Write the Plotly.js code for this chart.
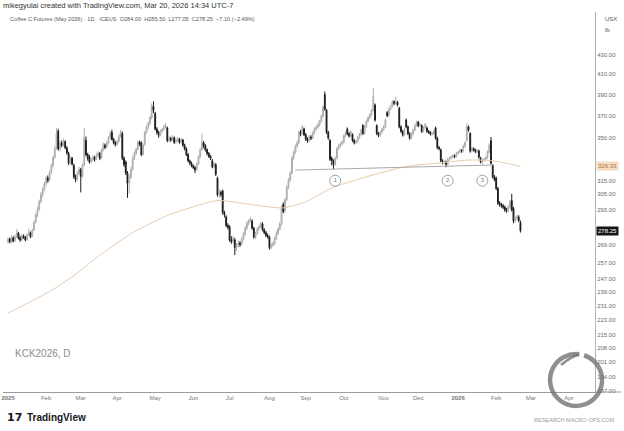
<!DOCTYPE html>
<html><head><meta charset="utf-8">
<script src="https://cdn.plot.ly/plotly-3.0.1.min.js"></script>
<style>html,body{margin:0;padding:0;background:#fff;}#chart{width:624px;height:431px;}</style>
</head><body><div id="chart"></div>
<script>
// ---- data (KCK2026 daily OHLC) ----
const startDate = '2025-01-02';
const barOpen = [
271.0,272.8,271.0,273.4,271.5,274.2,276.8,273.3,272.1,274.6,
273.7,272.2,275.5,277.0,274.5,279.0,284.5,289.8,293.5,299.5,
304.8,308.3,312.8,317.5,315.6,321.8,327.0,333.8,341.5,356.0,
341.5,345.8,344.3,347.0,341.5,337.0,329.4,333.2,327.0,318.2,
316.3,320.8,324.0,318.8,327.5,348.0,336.2,334.0,330.3,331.8,
333.6,332.4,335.8,337.0,333.5,339.8,344.0,342.5,345.8,350.3,
355.0,349.0,346.0,344.8,347.3,351.8,354.0,333.0,330.0,321.0,
313.2,317.8,324.3,333.2,337.3,340.8,346.4,346.0,336.3,344.5,
355.3,359.6,363.3,368.0,378.5,372.0,358.0,355.0,352.8,356.2,
357.8,360.2,359.0,348.2,350.0,348.8,350.5,346.7,348.2,349.0,
346.7,348.5,344.0,341.0,336.0,331.0,329.0,327.0,325.5,323.8,
328.3,334.2,340.3,346.0,343.5,340.0,337.0,334.5,331.0,326.2,
328.0,317.0,304.2,306.0,307.0,291.0,288.0,282.0,281.0,272.0,
271.2,272.0,267.2,268.6,270.0,269.2,272.7,276.2,280.2,283.6,
285.2,285.0,280.0,274.2,276.6,279.7,281.2,283.0,279.0,277.0,
275.0,274.0,267.2,268.6,269.7,273.2,276.7,279.7,283.2,297.0,
292.2,300.7,310.2,315.7,321.2,333.2,338.2,343.2,346.2,355.0,
354.2,358.0,353.0,349.0,347.7,351.0,350.2,354.7,358.2,359.6,
361.7,365.2,369.7,390.0,375.0,355.0,348.0,333.0,331.0,328.2,
333.2,341.2,343.6,345.2,346.7,352.2,358.0,354.0,352.2,353.0,
348.0,346.2,347.2,350.7,353.2,361.0,354.2,360.2,365.2,368.2,
371.2,375.2,380.0,361.0,354.0,352.7,355.2,357.7,360.2,373.0,
370.2,376.2,378.7,383.0,381.7,382.5,377.0,360.0,356.0,353.2,
366.0,360.0,354.0,350.2,353.7,357.2,361.2,364.0,361.2,361.0,
356.2,359.2,359.0,356.0,355.0,353.6,354.2,359.0,350.0,342.0,
340.0,331.0,329.6,330.0,328.2,332.2,333.2,334.2,335.0,334.7,
337.2,338.2,339.5,339.2,343.2,348.0,360.0,354.0,339.2,341.0,
340.0,338.7,339.0,333.0,330.2,331.7,332.2,333.7,338.2,348.0,
327.0,318.0,317.0,309.0,298.0,297.0,296.0,295.0,293.0,292.7,
295.2,300.0,294.0,285.2,287.2,288.0,284.0];
const barHigh = [
274.0,273.5,275.2,274.5,275.6,279.5,277.6,274.8,276.0,275.9,
274.6,276.4,279.8,277.8,279.6,285.4,290.8,295.0,300.6,306.2,
309.9,314.0,318.6,319.2,322.8,328.4,335.2,343.0,359.0,358.2,
347.8,348.0,349.6,348.1,343.0,338.4,334.6,334.0,328.6,319.8,
322.4,326.0,325.2,328.5,359.0,351.4,337.5,335.8,333.4,335.6,
334.9,337.2,339.0,338.2,341.0,346.2,345.4,347.6,351.8,356.0,
357.4,350.2,347.6,348.6,353.0,357.2,355.8,334.6,331.2,322.6,
319.6,326.0,334.8,338.8,342.0,347.8,348.0,347.2,345.4,356.4,
361.0,364.8,370.0,381.5,383.5,373.6,359.6,356.4,357.6,359.0,
361.6,363.4,360.2,352.0,351.2,352.6,351.4,349.8,351.0,350.2,
350.2,349.4,345.2,342.2,337.4,332.0,330.2,328.0,326.4,329.6,
335.6,341.8,354.0,347.6,344.8,341.2,338.2,335.8,332.4,330.0,
329.0,318.2,308.8,307.4,308.2,292.4,289.2,283.4,282.2,274.6,
274.8,273.4,270.0,271.8,271.2,273.8,277.4,281.4,284.8,286.4,
288.0,286.2,281.0,277.6,280.8,282.4,284.6,284.2,280.0,278.2,
276.4,275.0,270.0,271.0,274.2,277.8,280.6,284.4,296.4,298.6,
301.8,311.4,317.0,322.6,334.6,339.6,344.4,347.8,356.4,357.2,
361.6,359.2,354.4,350.6,352.4,352.6,355.8,359.4,361.0,363.0,
366.4,371.0,379.4,393.0,376.2,356.4,349.2,334.4,332.2,334.4,
342.4,345.0,346.4,348.0,353.4,356.0,359.4,355.2,357.0,354.2,
349.2,348.4,352.0,354.6,358.4,362.4,361.4,366.4,369.4,372.4,
376.4,396.0,381.4,362.2,355.4,356.6,358.8,361.4,367.4,374.2,
377.4,380.0,384.6,384.4,388.0,383.8,378.2,361.2,357.2,359.4,
367.4,361.2,355.2,354.8,358.4,362.4,365.4,365.2,363.8,362.2,
360.4,363.4,360.2,357.2,356.2,355.4,357.4,360.2,351.2,343.2,
341.2,332.2,331.4,331.0,333.4,334.4,335.4,336.4,336.2,338.4,
339.4,340.8,340.6,344.4,347.4,363.0,361.2,355.2,342.4,342.2,
341.0,340.8,340.2,334.2,332.8,333.4,334.8,339.4,345.4,351.0,
328.2,319.4,318.2,310.2,299.4,298.2,297.4,296.2,294.6,296.4,
300.4,305.0,295.2,288.4,289.4,289.2,285.5];
const barLow = [
269.5,269.8,270.2,270.4,270.8,273.5,272.4,270.9,271.5,272.8,
271.2,271.6,274.6,273.2,274.0,278.2,283.6,287.9,292.4,298.0,
302.5,306.8,311.0,313.4,314.6,320.2,325.8,332.5,340.2,339.4,
338.6,342.1,343.0,340.5,335.9,327.5,328.2,327.0,316.5,313.8,
315.0,319.4,306.0,317.2,326.5,334.6,331.0,328.6,329.0,330.5,
330.2,331.3,334.2,331.5,332.4,338.6,340.6,341.4,344.6,349.0,
347.8,344.6,342.8,343.6,346.2,350.6,331.6,326.0,319.4,302.0,
305.0,316.4,323.0,331.6,335.8,339.4,343.2,334.8,335.2,343.6,
353.8,357.8,361.6,366.8,372.4,356.8,353.2,350.4,351.6,354.6,
356.4,358.8,346.4,346.8,346.8,347.4,345.0,345.4,346.6,345.2,
345.6,342.6,339.6,334.8,329.6,327.4,325.6,324.2,321.0,322.6,
327.4,333.0,339.4,341.2,338.6,335.4,333.2,331.6,324.8,325.2,
318.6,302.8,302.0,302.6,289.6,287.6,280.8,279.2,270.8,269.4,
269.8,262.0,264.6,267.0,267.4,268.4,271.8,275.0,279.0,282.2,
284.0,279.0,273.0,272.8,275.6,278.4,280.0,278.0,276.0,274.0,
272.8,265.6,266.0,267.4,268.6,272.0,275.4,278.6,282.0,290.6,
291.0,299.4,308.6,314.2,320.0,331.8,336.6,341.6,345.0,351.6,
353.0,351.8,347.6,346.0,346.6,348.4,349.2,353.6,356.8,358.2,
360.4,363.8,368.4,374.6,353.6,348.6,330.8,327.2,324.0,327.0,
332.0,339.8,342.2,343.8,345.4,350.8,352.6,350.4,351.0,346.8,
344.6,345.0,346.0,349.4,352.0,352.8,353.0,359.0,364.0,367.0,
370.0,374.0,364.6,352.6,351.0,351.4,354.0,356.4,359.0,368.6,
369.0,375.0,377.4,379.8,380.4,378.6,358.6,354.6,351.4,352.0,
358.6,352.6,348.6,349.0,352.4,356.0,360.0,359.6,360.0,354.6,
355.0,358.0,354.6,353.6,352.2,352.4,353.0,348.6,340.6,339.6,
329.6,328.0,328.2,325.6,327.0,331.0,332.0,333.0,333.0,333.6,
336.0,337.0,337.6,338.0,342.0,347.0,355.6,337.6,338.0,338.6,
337.2,337.4,332.6,328.8,328.0,330.4,331.0,332.4,337.0,327.8,
316.6,314.6,307.8,296.6,295.4,294.6,293.6,291.6,291.0,291.6,
294.0,291.8,283.6,284.0,285.8,284.2,277.05];
const barClose = [
272.5,270.8,273.6,271.2,274.0,276.5,273.1,271.9,274.8,273.5,
272.0,275.3,276.9,274.2,278.5,284.0,289.5,293.0,299.2,304.5,
308.0,312.6,317.0,315.2,321.4,326.8,333.5,341.0,354.0,341.0,
345.5,344.0,347.2,341.8,337.5,329.0,333.0,328.4,318.0,316.0,
320.5,324.0,318.5,327.0,350.0,336.0,333.0,330.0,331.5,333.8,
332.0,335.5,337.0,333.2,339.5,344.0,342.2,345.5,350.0,354.0,
349.0,346.0,344.5,347.0,351.5,354.0,333.0,328.0,321.0,313.0,
317.5,324.0,333.0,337.0,340.5,346.2,345.0,336.0,344.0,355.0,
359.5,363.0,368.5,379.0,375.0,358.0,355.0,352.5,356.0,357.5,
360.0,361.5,348.0,350.0,348.5,350.5,346.5,348.0,349.0,346.5,
348.5,344.0,341.0,336.0,331.0,329.0,327.0,325.5,323.5,328.0,
334.0,340.0,346.0,343.5,340.0,337.0,334.5,333.0,326.0,328.5,
320.0,304.0,306.0,304.5,291.0,289.5,282.0,280.5,272.0,271.0,
273.0,267.0,268.5,270.0,269.0,272.5,276.0,280.0,283.5,285.0,
286.5,280.0,274.0,276.5,279.5,281.0,283.5,279.0,277.0,275.0,
274.0,267.0,268.5,269.5,273.0,276.5,279.5,283.0,295.0,292.0,
300.5,310.0,315.5,321.0,333.0,338.0,343.0,346.0,355.0,354.0,
360.0,353.0,349.0,347.5,351.0,350.0,354.5,358.0,359.5,361.5,
365.0,369.5,378.0,376.0,355.0,350.0,332.0,331.0,328.0,333.0,
341.0,343.5,345.0,346.5,352.0,354.5,354.0,352.0,355.5,348.0,
346.0,347.0,350.5,353.0,357.0,354.0,360.0,365.0,368.0,371.0,
375.0,388.0,366.0,354.0,352.5,355.0,357.5,360.0,366.0,370.0,
376.0,378.5,383.0,381.5,382.5,380.0,360.0,356.0,353.0,358.0,
360.0,354.0,350.0,353.5,357.0,361.0,364.0,361.0,362.5,356.0,
359.0,362.0,356.0,355.0,353.5,354.0,356.0,350.0,342.0,341.0,
331.0,329.5,330.0,328.0,332.0,333.0,334.0,335.0,334.5,337.0,
338.0,339.5,339.0,343.0,346.0,360.0,357.0,339.0,341.0,340.0,
338.5,339.5,334.0,330.0,331.5,332.0,333.5,338.0,344.0,329.0,
318.0,316.0,309.0,298.0,297.0,296.0,295.0,293.0,292.5,295.0,
299.0,293.0,285.0,287.0,288.0,285.35,278.25];

// moving average (read at sample bars)
const maIdx = [0,12,25,38,53,72,92,114,122,140,159,172,188,207,229,255,265,280,296];
const maVal = [227,233,240,249,262,277,289,298,300,297,294.5,299,310,318,326,330,331.5,331,326.33];

// neckline drawing
const neckIdx = [166, 280];
const neckVal = [323.4, 327.5];

// circled labels
const circleIdx = [189, 254, 274];
const circleLabels = ['1','2','3'];
const circleVal = [315, 315, 315];

// axis ticks (281 and 330 sit under the last-value labels, so they are left out)
const tickDates = ['2025-01-02','2025-02-03','2025-03-03','2025-04-01','2025-05-01','2025-06-02','2025-07-01','2025-08-01','2025-09-01','2025-10-01','2025-11-03','2025-12-01','2026-01-01','2026-02-02','2026-03-02','2026-04-01'];
const tickText = ['<b>2025</b>','Feb','Mar','Apr','May','Jun','Jul','Aug','Sep','Oct','Nov','Dec','<b>2026</b>','Feb','Mar','Apr'];
const yTicks = [187,194,201,208,215,223,231,239,247,257,269,293,305,315,350,370,390,410,430];
const lastPrice = 278.25;
const maLast = 326.33;

// ---- build ----
function tradingDays(start, n) {
  const out = []; const d = new Date(start + 'T00:00:00Z');
  while (out.length < n) {
    const w = d.getUTCDay();
    if (w !== 0 && w !== 6) out.push(d.toISOString().slice(0, 10));
    d.setUTCDate(d.getUTCDate() + 1);
  }
  return out;
}
const dates = tradingDays(startDate, barClose.length);
const FONT = '"Liberation Sans", Arial, sans-serif';

const traces = [
  { type: 'scatter', mode: 'lines', x: maIdx.map(i => dates[i]), y: maVal,
    line: { color: '#e8cbab', width: 1, shape: 'spline', smoothing: 0.6 }, hoverinfo: 'skip' },
  { type: 'candlestick', x: dates, open: barOpen, high: barHigh, low: barLow, close: barClose,
    increasing: { line: { color: '#ababab', width: 1 }, fillcolor: '#e2e2e2' },
    decreasing: { line: { color: '#1c1c1c', width: 1 }, fillcolor: '#1c1c1c' },
    whiskerwidth: 0, hoverinfo: 'skip' },
  { type: 'scatter', mode: 'lines', x: neckIdx.map(i => dates[i]), y: neckVal,
    line: { color: '#a9a9a9', width: 1 }, hoverinfo: 'skip' },
  { type: 'scatter', mode: 'markers+text', x: circleIdx.map(i => dates[i]), y: circleVal,
    text: circleLabels, textposition: 'middle center',
    textfont: { size: 6, color: '#7a7a7a', family: FONT },
    marker: { symbol: 'circle-open', size: 11, color: '#8a8a8a', line: { width: 0.8 } }, hoverinfo: 'skip' }
];

function arcPath(r, a0, a1, n) {
  let p = ''; const step = (a1 - a0) / n;
  for (let k = 0; k < n; k++) {
    const t0 = (a0 + k * step) * Math.PI / 180, t1 = (a0 + (k + 1) * step) * Math.PI / 180;
    const h = 4 / 3 * Math.tan((t1 - t0) / 4) * r;
    const x0 = r * Math.cos(t0), y0 = r * Math.sin(t0), x1 = r * Math.cos(t1), y1 = r * Math.sin(t1);
    const c1x = x0 - h * Math.sin(t0), c1y = y0 + h * Math.cos(t0);
    const c2x = x1 + h * Math.sin(t1), c2y = y1 - h * Math.cos(t1);
    if (k === 0) p += `M${x0.toFixed(2)},${y0.toFixed(2)}`;
    p += ` C${c1x.toFixed(2)},${c1y.toFixed(2)} ${c2x.toFixed(2)},${c2y.toFixed(2)} ${x1.toFixed(2)},${y1.toFixed(2)}`;
  }
  return p;
}

const layout = {
  width: 624, height: 431,
  margin: { l: 3, r: 29, t: 12, b: 39 },
  paper_bgcolor: '#ffffff', plot_bgcolor: '#ffffff',
  showlegend: false,
  font: { family: FONT },
  xaxis: {
    type: 'date', range: ['2024-12-30 02:00', '2026-04-22 02:00'],
    rangebreaks: [{ bounds: ['sat', 'mon'] }],
    rangeslider: { visible: false },
    tickmode: 'array', tickvals: tickDates, ticktext: tickText,
    tickfont: { size: 6, color: '#777', family: FONT },
    showgrid: false, zeroline: false, showline: true, linecolor: '#9c9c9c', linewidth: 1, ticks: ''
  },
  yaxis: {
    type: 'log', side: 'right',
    range: [Math.log10(186.7), Math.log10(478.3)],
    tickmode: 'array', tickvals: yTicks, ticktext: yTicks.map(v => v.toFixed(2)),
    tickfont: { size: 6, color: '#6a6a6a', family: FONT },
    showgrid: false, zeroline: false, showline: true, linecolor: '#b3b3b3', linewidth: 1, ticks: ''
  },
  shapes: [
    { type: 'line', xref: 'paper', yref: 'paper', x0: 1, x1: 1.044, y0: 0, y1: 0, line: { color: '#9c9c9c', width: 1 } },
    { type: 'path', layer: 'above', xref: 'paper', yref: 'paper', xsizemode: 'pixel', ysizemode: 'pixel',
      xanchor: 0.968, yanchor: 0.0316, path: arcPath(26, 83, 432, 5),
      line: { color: 'rgba(115,115,115,0.8)', width: 4.5 } },
    { type: 'path', layer: 'above', xref: 'paper', yref: 'paper', xsizemode: 'pixel', ysizemode: 'pixel',
      xanchor: 0.968, yanchor: 0.0316, path: 'M3.2,25.8 Q-6,23 -15,15',
      line: { color: 'rgba(115,115,115,0.8)', width: 2.5 } }
  ],
  annotations: [
    { xref: 'paper', yref: 'paper', x: -0.0034, y: 1.0158, xanchor: 'left', yanchor: 'middle', showarrow: false,
      text: 'mikegyulai created with TradingView.com, Mar 20, 2026 14:34 UTC-7', font: { size: 7.5, color: '#333' } },
    { xref: 'paper', yref: 'paper', x: 0.0084, y: 0.9816, xanchor: 'left', yanchor: 'middle', showarrow: false,
      text: 'Coffee C Futures (May 2026) · 1D · ICEUS  O284.00  H285.50  L277.05  C278.25  −7.10 (−2.49%)',
      font: { size: 5.6, color: '#5a5a5a' } },
    { xref: 'paper', yref: 'paper', x: 1.0135, y: 0.9816, xanchor: 'left', yanchor: 'middle', showarrow: false,
      text: 'USX', font: { size: 6, color: '#555' } },
    { xref: 'paper', yref: 'paper', x: 1.0135, y: 0.9526, xanchor: 'left', yanchor: 'middle', showarrow: false,
      text: 'lb', font: { size: 6, color: '#555' } },
    { xref: 'paper', yref: 'paper', x: 0.0169, y: 0.1026, xanchor: 'left', yanchor: 'middle', showarrow: false,
      text: 'KCK2026, D', font: { size: 10, color: '#8e8e8e' } },
    { xref: 'paper', yref: 'paper', x: 0.0034, y: -0.0684, xanchor: 'left', yanchor: 'middle', showarrow: false,
      text: '<b>17</b>', font: { size: 11, color: '#131722', family: '"DejaVu Sans", sans-serif' } },
    { xref: 'paper', yref: 'paper', x: 0.037, y: -0.0684, xanchor: 'left', yanchor: 'middle', showarrow: false,
      text: '<b>TradingView</b>', font: { size: 10, color: '#131722' } },
    { xref: 'paper', yref: 'paper', x: 1.0372, y: -0.0737, xanchor: 'right', yanchor: 'middle', showarrow: false,
      text: 'RESEARCH.MACRO-OPS.COM', font: { size: 5.5, color: '#9a9a9a' } },
    { xref: 'paper', yref: 'y', x: 1, y: Math.log10(maLast), xanchor: 'left', yanchor: 'middle', xshift: 1, showarrow: false,
      text: maLast.toFixed(2), bgcolor: '#f6dcc2', borderpad: 1, font: { size: 6, color: '#a8764a' } },
    { xref: 'paper', yref: 'y', x: 1, y: Math.log10(lastPrice), xanchor: 'left', yanchor: 'middle', xshift: 1, showarrow: false,
      text: lastPrice.toFixed(2), bgcolor: '#161616', borderpad: 1, font: { size: 6, color: '#ffffff' } }
  ]
};

Plotly.newPlot('chart', traces, layout, { staticPlot: true, displayModeBar: false });
</script>
</body></html>
